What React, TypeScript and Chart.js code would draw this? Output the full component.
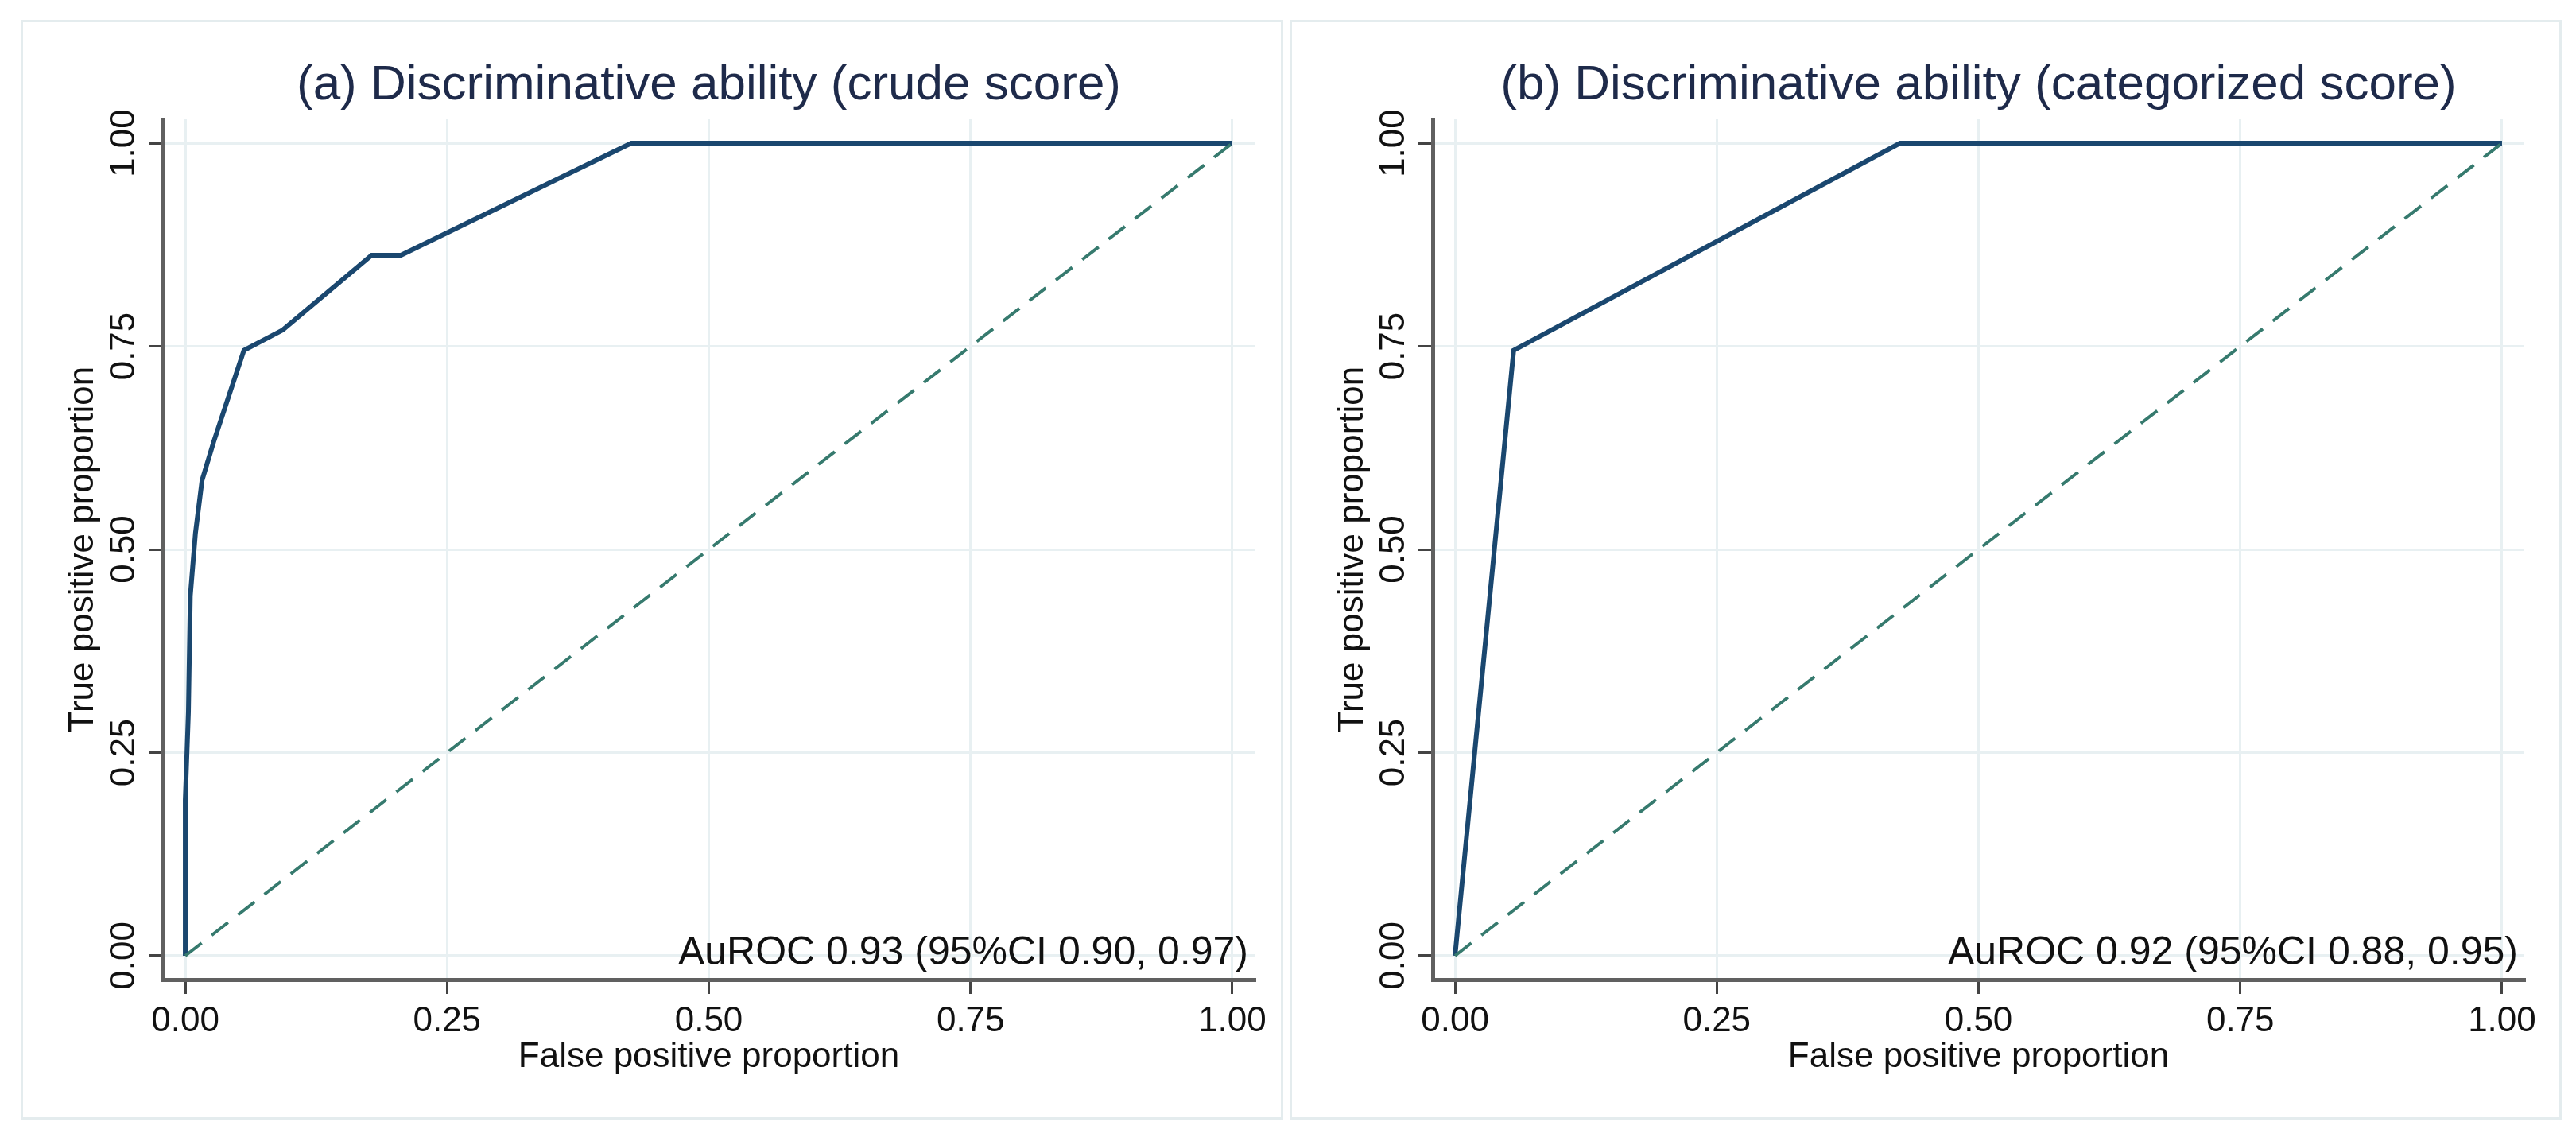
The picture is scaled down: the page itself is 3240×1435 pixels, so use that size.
import React, { useEffect, useRef } from "react";
import { Chart, registerables } from "chart.js";

Chart.register(...registerables);

// ---- data ----
const tickValues = [0, 0.25, 0.5, 0.75, 1];
const tickLabels = ["0.00", "0.25", "0.50", "0.75", "1.00"];

const crudeFPR = [0, 0, 0.003, 0.0048, 0.0097, 0.016, 0.027, 0.056, 0.093, 0.178, 0.206, 0.426, 1];
const crudeTPR = [0, 0.192, 0.3, 0.443, 0.52, 0.585, 0.632, 0.745, 0.77, 0.862, 0.862, 1, 1];

const catFPR = [0, 0.056, 0.425, 1];
const catTPR = [0, 0.745, 1, 1];

const refFPR = [0, 1];
const refTPR = [0, 1];

const panelTitles = [
  "(a) Discriminative ability (crude score)",
  "(b) Discriminative ability (categorized score)",
];
const aurocLabels = ["AuROC 0.93 (95%CI 0.90, 0.97)", "AuROC 0.92 (95%CI 0.88, 0.95)"];
const xTitle = "False positive proportion";
const yTitle = "True positive proportion";

// ---- styles ----
const FONT = '"Liberation Sans", Arial, Helvetica, sans-serif';
const NAVY = "#1a476f";
const REF = "#367a6e";
const GRID = "#e8f0f2";
const AXIS = "#606060";
const TICK = "#444444";
const TEXT = "#111111";
const TITLE = "#1e2a4a";

const CW = 1620;
const CH = 1435;

const aurocPlugin = {
  id: "auroc",
  afterDatasetsDraw(chart: any, _args: any, opts: any) {
    const { ctx, scales } = chart;
    const x = scales.x.getPixelForValue(1) + 20;
    const y = scales.y.getPixelForValue(0) + 11;
    ctx.save();
    ctx.font = `50px ${FONT}`;
    ctx.fillStyle = TEXT;
    ctx.textAlign = "right";
    ctx.textBaseline = "alphabetic";
    ctx.fillText(opts.text, x, y);
    ctx.restore();
  },
};

function toPoints(xs: number[], ys: number[]) {
  return xs.map((x, i) => ({ x, y: ys[i] }));
}

function setTicks(scale: any) {
  scale.ticks = tickValues.map((v) => ({ value: v }));
}

function tickLabel(v: any) {
  const i = tickValues.indexOf(Number(v));
  return i >= 0 ? tickLabels[i] : "";
}

function RocPanel(props: { left: number; fpr: number[]; tpr: number[]; title: string; auroc: string }) {
  const ref = useRef<HTMLCanvasElement | null>(null);
  useEffect(() => {
    if (!ref.current) return;
    const chart = new Chart(ref.current, {
      type: "scatter",
      data: {
        datasets: [
          {
            data: toPoints(refFPR, refTPR),
            showLine: true,
            borderColor: REF,
            borderWidth: 4,
            borderDash: [26, 16],
            pointRadius: 0,
            tension: 0,
          },
          {
            data: toPoints(props.fpr, props.tpr),
            showLine: true,
            borderColor: NAVY,
            borderWidth: 6,
            pointRadius: 0,
            tension: 0,
          },
        ],
      },
      plugins: [aurocPlugin as any],
      options: {
        animation: false,
        responsive: false,
        devicePixelRatio: 1,
        layout: { padding: { left: 60, right: CW - 1578, top: 20, bottom: CH - 1232 - 150 } },
        plugins: {
          legend: { display: false },
          tooltip: { enabled: false },
          title: {
            display: true,
            text: props.title,
            fullSize: false,
            color: TITLE,
            font: { family: FONT, size: 62, weight: "normal", lineHeight: 1.2 },
            padding: { top: 51, bottom: 4.6 },
          },
          auroc: { text: props.auroc },
        } as any,
        scales: {
          x: {
            type: "linear",
            min: -0.0213,
            max: 1.0213,
            afterBuildTicks: setTicks,
            afterFit: (s: any) => {
              s.height = 150;
            },
            grid: {
              color: GRID,
              lineWidth: 3,
              drawTicks: true,
              tickLength: 18,
              tickColor: TICK,
              tickWidth: 3,
            },
            border: { display: true, color: AXIS, width: 5 },
            ticks: {
              callback: tickLabel,
              color: TEXT,
              font: { family: FONT, size: 44, lineHeight: 1.2 },
              padding: 8.6,
              maxRotation: 0,
              minRotation: 0,
              autoSkip: false,
            },
            title: {
              display: true,
              text: xTitle,
              color: TEXT,
              font: { family: FONT, size: 44, lineHeight: 1.2 },
              padding: { top: 0, bottom: 26 },
            },
          },
          y: {
            type: "linear",
            min: -0.0294,
            max: 1.0294,
            afterBuildTicks: setTicks,
            afterFit: (s: any) => {
              s.width = 145;
            },
            grid: {
              color: GRID,
              lineWidth: 3,
              drawTicks: true,
              tickLength: 18,
              tickColor: TICK,
              tickWidth: 3,
            },
            border: { display: true, color: AXIS, width: 5 },
            ticks: {
              callback: tickLabel,
              color: TEXT,
              font: { family: FONT, size: 44, lineHeight: 1.2 },
              padding: -13,
              minRotation: 90,
              maxRotation: 90,
              crossAlign: "center",
              autoSkip: false,
            },
            title: {
              display: true,
              text: yTitle,
              color: TEXT,
              font: { family: FONT, size: 44, lineHeight: 1.2 },
              padding: { top: 18.6, bottom: 0 },
            },
          },
        },
      } as any,
    });
    return () => chart.destroy();
  }, []);
  return (
    <canvas
      ref={ref}
      width={CW}
      height={CH}
      style={{ position: "absolute", left: props.left, top: 0, width: CW, height: CH }}
    />
  );
}

export default function App() {
  const border = "3px solid #e4ecee";
  return (
    <div
      style={{
        position: "absolute",
        left: 0,
        top: 0,
        width: 3240,
        height: 1435,
        background: "#ffffff",
        overflow: "hidden",
      }}
    >
      <div
        style={{
          position: "absolute",
          left: 26,
          top: 25,
          width: 1588,
          height: 1383,
          border,
          boxSizing: "border-box",
        }}
      />
      <div
        style={{
          position: "absolute",
          left: 1622,
          top: 25,
          width: 1600,
          height: 1383,
          border,
          boxSizing: "border-box",
        }}
      />
      <RocPanel left={0} fpr={crudeFPR} tpr={crudeTPR} title={panelTitles[0]} auroc={aurocLabels[0]} />
      <RocPanel left={1597} fpr={catFPR} tpr={catTPR} title={panelTitles[1]} auroc={aurocLabels[1]} />
    </div>
  );
}
